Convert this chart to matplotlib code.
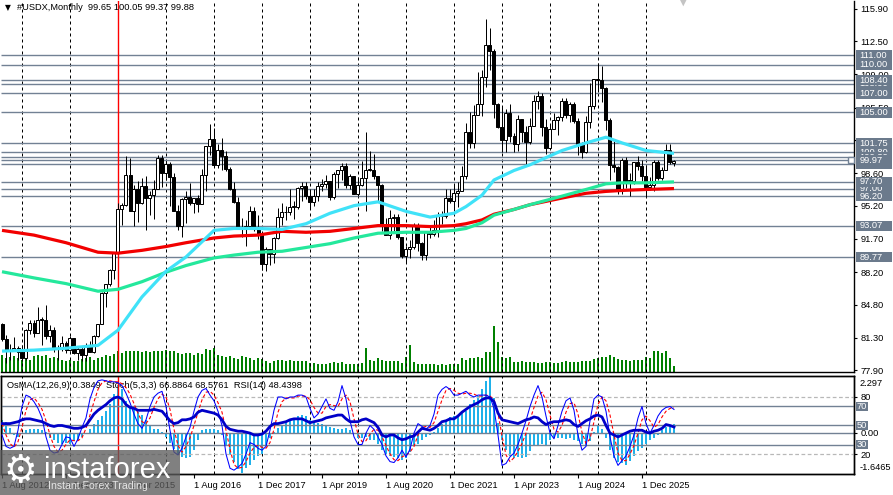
import numpy as np
import matplotlib
matplotlib.use("Agg")
import matplotlib.pyplot as plt
import matplotlib.transforms as mtransforms
from matplotlib.patches import Rectangle

plt.rcParams['font.family'] = ['Liberation Sans', 'DejaVu Sans']

# ---- #USDX monthly bars, first bar = Aug 2012 ----
first_open = 82.7
closes = [81.2, 79.9, 79.9, 80.2, 79.8,
          79.2, 82.1, 82.9, 81.8, 83.2, 83.2, 81.5, 82.1, 80.2, 80.2, 80.7, 80.0,
          81.3, 79.7, 80.1, 79.5, 80.4, 79.8, 81.5, 82.8, 86.0, 87.0, 88.4, 90.3,
          94.8, 95.3, 98.4, 94.6, 96.9, 95.5, 97.3, 96.0, 96.3, 97.0, 100.2, 98.6,
          99.6, 98.2, 94.6, 93.1, 95.9, 96.1, 95.5, 96.0, 95.4, 98.4, 101.5, 102.2,
          99.5, 101.1, 100.4, 99.1, 97.0, 95.6, 92.9, 92.7, 93.1, 94.6, 93.0, 92.1,
          89.1, 90.6, 90.1, 91.8, 94.0, 94.5, 94.5, 95.1, 95.1, 97.1, 97.3, 96.2,
          95.6, 96.2, 97.3, 97.5, 97.8, 96.1, 98.5, 98.9, 99.4, 97.4, 98.3, 96.4,
          97.4, 98.1, 99.0, 99.0, 98.3, 97.4, 93.3, 92.1, 93.9, 94.0, 91.9, 89.9,
          90.6, 90.9, 93.2, 91.3, 90.0, 92.4, 92.2, 92.6, 94.2, 94.1, 96.0, 95.7,
          96.5, 96.7, 98.3, 103.0, 101.8, 104.7, 105.9, 108.7, 112.1, 111.5, 105.9, 103.5,
          102.1, 104.9, 102.5, 101.7, 104.3, 102.9, 101.9, 103.6, 106.2, 106.7, 103.5, 101.3,
          103.3, 104.2, 104.5, 106.2, 104.7, 105.9, 104.1, 101.7, 100.8, 104.0, 105.7, 108.5,
          108.4, 107.6, 104.2, 99.5, 99.3, 96.9, 100.0, 97.8, 97.8, 99.8, 99.4, 98.3,
          97.2, 97.4, 99.8, 98.1, 98.95, 101.06, 99.83, 99.88]
highs = [82.9, 81.6, 80.6, 81.4, 80.4,
         80.5, 82.2, 83.2, 83.2, 84.5, 83.5, 84.8, 82.6, 82.4, 80.5, 81.5, 81.0,
         81.5, 81.3, 80.4, 80.3, 80.7, 81.0, 81.6, 82.8, 86.1, 87.0, 88.5, 90.3,
         95.5, 95.5, 100.4, 100.2, 97.4, 97.8, 98.1, 98.3, 96.7, 97.9, 100.5, 100.5,
         99.9, 99.8, 98.6, 95.3, 96.0, 96.7, 97.6, 96.0, 96.3, 99.1, 101.5, 103.8,
         103.4, 101.7, 102.3, 101.0, 99.3, 97.7, 96.1, 93.9, 93.7, 95.2, 95.1, 94.2,
         92.4, 90.9, 90.6, 91.9, 95.0, 95.5, 95.2, 96.9, 95.7, 97.2, 97.7, 97.7,
         96.9, 96.9, 97.7, 98.0, 98.4, 97.8, 98.7, 99.0, 99.7, 99.7, 98.5, 98.3,
         98.2, 99.9, 103.0, 100.9, 100.6, 98.0, 97.5, 93.9, 94.7, 94.3, 94.3, 91.9,
         91.0, 91.6, 93.4, 93.4, 91.4, 92.4, 93.2, 93.7, 94.5, 94.6, 96.9, 96.9,
         97.4, 97.7, 99.4, 103.9, 105.0, 105.8, 109.3, 109.5, 114.8, 113.9, 111.7, 106.0,
         105.6, 105.4, 105.9, 102.8, 104.7, 104.0, 103.6, 104.4, 106.8, 107.3, 107.1, 104.3,
         103.8, 104.9, 104.6, 106.5, 106.5, 106.1, 106.1, 104.4, 101.9, 104.6, 108.1, 108.5,
         110.2, 109.9, 107.7, 104.4, 102.0, 99.4, 100.2, 100.3, 98.6, 99.8, 100.4, 100.0,
         99.5, 98.2, 100.0, 100.0, 99.3, 101.7, 101.7, 100.05]
lows = [81.0, 78.6, 79.0, 79.9, 79.0,
        78.9, 79.0, 81.7, 81.4, 81.9, 80.5, 81.2, 80.9, 79.8, 79.0, 79.9, 79.7,
        79.9, 79.6, 79.0, 78.9, 78.9, 79.8, 79.7, 81.4, 82.8, 84.5, 86.7, 87.5,
        90.1, 93.2, 95.2, 94.6, 93.1, 93.5, 95.4, 92.6, 94.2, 93.8, 96.9, 97.2,
        97.9, 95.2, 94.6, 92.6, 91.9, 93.4, 95.3, 94.4, 94.5, 95.5, 96.7, 100.5,
        99.4, 99.2, 98.9, 98.8, 96.8, 95.5, 92.9, 91.9, 91.0, 92.7, 92.5, 91.7,
        88.4, 88.3, 89.0, 89.2, 91.7, 93.2, 93.7, 94.2, 93.8, 94.8, 95.7, 95.9,
        95.0, 95.2, 95.7, 96.7, 97.1, 95.8, 95.9, 97.1, 97.9, 97.1, 97.0, 96.4,
        96.2, 97.3, 94.6, 98.8, 98.0, 95.7, 92.5, 92.1, 91.7, 92.5, 91.7, 89.7,
        89.2, 89.7, 90.6, 90.4, 89.5, 89.5, 91.8, 92.0, 91.9, 93.3, 93.9, 95.5,
        94.6, 95.1, 96.9, 98.0, 101.3, 101.3, 104.7, 104.6, 107.7, 109.5, 104.4, 103.4,
        100.8, 100.8, 101.9, 100.8, 101.0, 101.9, 99.6, 101.7, 103.6, 105.4, 102.5, 100.6,
        101.3, 103.4, 102.6, 104.1, 104.4, 104.0, 103.9, 100.5, 100.2, 100.7, 103.4, 105.4,
        107.2, 106.1, 103.2, 97.9, 98.7, 96.4, 96.4, 97.1, 96.2, 97.5, 98.9, 97.8,
        96.15, 96.8, 96.7, 97.9, 97.9, 98.9, 99.6, 99.37]
cur_ohlc = [99.65, 100.05, 99.37, 99.88]

# moving averages at these bars
ma_idx = [0, 8, 16, 24, 29, 35, 41, 46, 53, 58, 64, 70, 76, 82, 88, 94, 101, 107,
          113, 116, 120, 123, 128, 132, 140, 146, 151, 155, 161, 168]
ma_cyan = [79.9, 80.0, 80.2, 80.5, 82.1, 85.6, 88.3, 89.8, 92.6, 92.8, 92.8, 92.7, 93.3,
           94.4, 95.2, 95.6, 94.6, 94.0, 94.4, 95.1, 96.3, 97.9, 98.9, 99.5, 101.0, 101.8,
           102.4, 101.8, 101.0, 100.7]
ma_green = [88.25, 87.6, 87.0, 86.2, 86.4, 87.2, 88.2, 88.9, 89.7, 90.0, 90.3, 90.4, 90.8,
            91.2, 91.8, 92.3, 92.4, 92.4, 92.6, 92.8, 93.4, 94.2, 94.8, 95.3, 96.2, 96.9,
            97.5, 97.6, 97.6, 97.7]
ma_red = [92.6, 92.1, 91.3, 90.3, 90.2, 90.5, 90.9, 91.3, 91.8, 92.0, 92.1, 92.5, 92.4,
          92.5, 92.8, 93.1, 93.1, 93.0, 93.1, 93.3, 93.7, 94.3, 94.8, 95.3, 96.0, 96.5,
          96.7, 96.8, 96.9, 97.0]

volumes = [173, 140, 147, 157, 140, 123, 157, 123, 163, 173,
           157, 173, 140, 147, 140, 123, 107, 123, 107, 113,
           130, 140, 147, 123, 140, 147, 173, 157, 180, 207,
           190, 207, 213, 207, 213, 200, 207, 200, 207, 213,
           207, 223, 207, 207, 190, 180, 190, 190, 173, 190,
           180, 233, 223, 240, 173, 157, 147, 157, 140, 133,
           157, 147, 140, 123, 140, 130, 113, 90, 107, 123,
           123, 113, 123, 107, 107, 107, 107, 90, 90, 83,
           83, 83, 90, 97, 90, 97, 83, 83, 83, 83,
           90, 240, 123, 107, 140, 123, 107, 113, 107, 107,
           90, 147, 273, 97, 83, 83, 83, 83, 83, 73,
           83, 73, 83, 83, 83, 140, 123, 140, 140, 147,
           140, 200, 200, 457, 300, 147, 140, 147, 100, 100,
           107, 100, 100, 97, 93, 90, 97, 100, 93, 90,
           100, 107, 97, 100, 103, 110, 107, 113, 130, 140,
           147, 150, 173, 150, 130, 123, 117, 113, 120, 123,
           117, 150, 143, 207, 213, 190, 210, 140, 60]

osma = [0.55, 0.45, 0.2, -0.1, -0.15, -0.05, 0.1, 0.15, 0.18, 0.15,
        0.12, 0.05, -0.2, -0.3, -0.4, -0.45, -0.4, -0.45, -0.35, -0.3,
        -0.15, -0.05, 0.15, 0.35, 0.55, 0.7, 0.9, 1.2, 1.6, 1.95,
        1.8, 1.3, 1.1, 1.0, 0.85, 0.75, 0.55, 0.3, 0.15, 0.15,
        0.05, -0.15, -0.4, -0.65, -0.85, -1.0, -1.05, -1.0, -0.7, -0.3,
        0.1, 0.15, 0.15, 0.15, 0.1, -0.1, -0.55, -0.9, -1.2, -1.5,
        -1.6465, -1.45, -1.3, -1.1, -0.95, -0.85, -0.55, -0.2, 0.05, 0.2,
        0.3, 0.4, 0.5, 0.6, 0.7, 0.75, 0.7, 0.55, 0.45, 0.4,
        0.35, 0.3, 0.25, 0.2, 0.15, 0.15, 0.2, 0.1, -0.05, -0.2,
        -0.2, -0.15, -0.3, -0.3, -0.45, -0.7, -0.85, -0.95, -1.0, -1.05,
        -1.1, -1.05, -0.8, -0.55, -0.45, -0.3, -0.15, -0.1, 0.05, 0.2,
        0.35, 0.5, 0.65, 0.7, 0.75, 0.8, 0.9, 1.2, 1.35, 1.5,
        1.8, 2.15, 2.297, 1.45, 0.4, -0.3, -0.7, -0.95, -1.05, -1.0,
        -1.05, -1.0, -0.75, -0.55, -0.5, -0.45, -0.5, -0.3, -0.2, -0.2,
        -0.2, -0.25, -0.2, -0.3, -0.35, -0.45, -0.55, -0.35, 0.05, 0.3,
        0.15, -0.2, -0.7, -1.05, -1.2, -1.25, -1.3, -1.15, -0.95, -0.75,
        -0.6, -0.45, -0.3, -0.2, -0.1, 0.1, 0.25, 0.3, 0.3849]

stoch_k = [40, 28, 26, 28, 45, 70, 82, 80, 75, 68, 58, 38, 24, 21, 22, 30, 38, 37, 28, 36,
           48, 58, 78, 90, 97, 98, 97, 96, 96, 95, 92, 84, 74, 62, 52, 47, 56, 70, 80, 84,
           86, 70, 45, 22, 19, 26, 38, 48, 65, 80, 87, 89, 82, 76, 65, 50, 20, 5, 3, 6,
           10, 20, 32, 30, 26, 24, 28, 45, 66, 80, 80, 78, 80,
           80, 82, 82, 80, 68, 58, 62, 70, 78, 68, 66, 75, 92, 78, 55, 38, 30, 30, 42, 50,
           46, 38, 30, 18, 12, 11, 16, 24, 17, 25, 42, 52, 49, 46, 50, 62, 82, 88, 91, 88,
           82, 82, 84, 86, 82, 80, 82, 82, 82, 80, 68, 40, 8, 10, 17, 21, 30, 42, 55, 70,
           82, 92, 80, 60, 42, 36, 50, 65, 76, 79, 66, 40, 24, 28, 55, 78, 82, 80, 65, 38,
           18, 8, 13, 18, 28, 40, 58, 70, 52, 42, 50, 60, 66, 69, 70, 66.8864]
stoch_d = [52, 40, 31, 27, 33, 48, 66, 77, 79, 74, 67, 55, 40, 28, 22, 24, 30, 35, 34, 34,
           37, 47, 61, 75, 88, 95, 97, 97, 96, 96, 94, 90, 83, 73, 63, 54, 52, 58, 69, 78,
           83, 80, 67, 46, 29, 22, 28, 37, 50, 64, 77, 85, 86, 82, 74, 64, 45, 25, 9, 5,
           6, 12, 21, 27, 29, 27, 26, 32, 46, 64, 75, 79, 79,
           79, 81, 81, 81, 77, 69, 63, 63, 70, 72, 71, 70, 78, 82, 75, 57, 41, 33, 34, 41,
           46, 45, 38, 29, 20, 14, 13, 17, 19, 22, 28, 40, 48, 49, 48, 53, 65, 77, 87, 89,
           87, 84, 83, 84, 84, 83, 81, 81, 82, 81, 77, 63, 39, 19, 12, 16, 23, 31, 42, 56,
           69, 81, 85, 77, 61, 46, 43, 50, 64, 73, 74, 62, 43, 31, 36, 54, 72, 80, 76, 61,
           40, 21, 13, 13, 20, 29, 42, 56, 60, 55, 48, 51, 59, 65, 68, 68.5761]
rsi = [52, 52, 52, 53, 54, 56, 57, 57, 56, 55, 54, 52, 50, 49, 50, 50, 49, 48, 47, 47,
       48, 50, 56, 62, 66, 69, 72, 76, 79, 80, 78, 72, 69, 68, 66, 66, 66, 66, 67, 66,
       65, 60, 55, 52, 53, 56, 56, 57, 59, 64, 66, 65, 64, 63, 61, 56, 49, 46, 45, 44,
       44, 43, 42, 40, 40, 41, 44, 49, 52, 52, 53, 54, 56,
       57, 57, 57, 55, 53, 54, 55, 56, 58, 59, 60, 61, 61, 57, 54, 54, 54, 56, 57, 55,
       53, 48, 40, 38, 40, 40, 37, 35, 36, 38, 39, 43, 47, 46, 45, 47, 50, 54, 55, 57,
       57, 60, 64, 67, 70, 72, 74, 77, 79, 79, 75, 63, 56, 55, 54, 53, 52, 54, 56, 57,
       59, 58, 54, 51, 53, 54, 54, 55, 56, 55, 51, 49, 52, 55, 57, 60, 61, 59, 50, 42,
       40, 38, 40, 42, 44, 45, 45, 45, 43, 42, 44, 45, 47, 51, 50, 48.4398]

# horizontal price lines (visible labels) and those whose labels are covered
price_levels = [111.00, 110.00, 108.40, 107.00, 105.00, 101.75, 99.97, 97.70, 96.20, 93.07, 89.77]
hidden_levels = [108.00, 100.80, 100.30, 99.60, 97.00]
y_ticks = [115.90, 112.50, 109.00, 105.50, 102.10, 98.60, 95.20, 91.70, 88.20, 84.80, 81.30, 77.90]
date_idx = [0, 16, 32, 48, 64, 80, 96, 112, 128, 144, 160]
date_labels = ['1 Aug 2012', '1 Dec 2013', '1 Apr 2015', '1 Aug 2016', '1 Dec 2017',
               '1 Apr 2019', '1 Aug 2020', '1 Dec 2021', '1 Apr 2023', '1 Aug 2024',
               '1 Dec 2025']
jan_idx = list(range(5, 162, 12))
vline_idx = 29

n = len(closes)
assert len(highs) == n and len(lows) == n and len(volumes) == n
assert len(osma) == n and len(stoch_k) == n and len(stoch_d) == n and len(rsi) == n

closes = np.array(closes)
opens = np.r_[first_open, closes[:-1]]
opens[-1] = cur_ohlc[0]
highs = np.maximum.reduce([np.array(highs), opens, closes])
lows = np.minimum.reduce([np.array(lows), opens, closes])
idx = np.arange(n)

W, H = 893, 495
LINE = '#728194'
BOX = '#6b7a8c'
FS = 6.7

def fx(x):
    return x / W

def fy(y):
    return 1 - y / H

fig = plt.figure(figsize=(W / 100, H / 100), dpi=100, facecolor='white')
ax = fig.add_axes([fx(1), fy(372), 853 / W, 371 / H])
ax_o = fig.add_axes([fx(1), fy(474), 853 / W, 98 / H])

# volume sits under the price panel
ax_v = ax.twinx()
ax_v.set_zorder(ax.get_zorder() - 1)
ax.patch.set_visible(False)
ax_v.bar(idx, volumes, width=0.3, color='#008000', lw=0)
ax_v.set_ylim(0, 3710)
ax_v.axis('off')

xlim = (-0.25, 213)
ax.set_xlim(*xlim)
ax.set_ylim(77.70, 116.73)

for i in jan_idx:
    ax.axvline(i, color='black', lw=0.72, ls=(0, (3, 3)), zorder=1)
    ax_o.axvline(i, color='black', lw=0.72, ls=(0, (3, 3)), zorder=0.5)
ax.axvline(vline_idx, color='red', lw=1.0, zorder=2.8)
ax_o.axvline(vline_idx, color='red', lw=1.0, zorder=2.8)

ax.hlines(price_levels + hidden_levels, xlim[0], xlim[1], color=LINE, lw=1.0, zorder=1.5)

# candles
up = closes >= opens
body_lo = np.minimum(opens, closes)
body_h = np.maximum(np.abs(closes - opens), 0.06)
ax.vlines(idx, lows, highs, color='black', lw=0.72, zorder=3)
ax.bar(idx[up], body_h[up], bottom=body_lo[up], width=0.75, color='white',
       edgecolor='black', lw=0.72, zorder=3.2)
ax.bar(idx[~up], body_h[~up], bottom=body_lo[~up], width=0.75, color='black',
       edgecolor='black', lw=0.72, zorder=3.2)

ax.plot(ma_idx, ma_red, color='#f20000', lw=2.3, zorder=4, solid_capstyle='butt')
ax.plot(ma_idx, ma_green, color='#24e89c', lw=2.3, zorder=4.1, solid_capstyle='butt')
ax.plot(ma_idx, ma_cyan, color='#40e2f8', lw=2.3, zorder=4.2, solid_capstyle='butt')

ax.plot([212.3], [99.97], marker='s', ms=5, mfc='white', mec=LINE, mew=1, clip_on=False, zorder=6)

ax.yaxis.tick_right()
ax.set_yticks(y_ticks)
ax.set_yticklabels([f'{v:.2f}' for v in y_ticks])
ax.tick_params(axis='y', direction='out', length=2.5, width=0.8, pad=2, labelsize=FS)
ax.set_xticks([])
for s in ['top', 'left']:
    ax.spines[s].set_visible(False)
for s in ['right', 'bottom']:
    ax.spines[s].set_linewidth(1.0)

trans = mtransforms.blended_transform_factory(ax.transAxes, ax.transData)
z = 5
for v in hidden_levels + price_levels:
    ax.add_patch(Rectangle((1.0023, v - 0.55), 0.0422, 1.1, transform=trans, fc=BOX,
                           ec='none', clip_on=False, zorder=z))
    ax.text(1.0062, v, f'{v:.2f}', transform=trans, color='white', fontsize=FS,
            va='center', ha='left', clip_on=False, zorder=z + 0.5)
    z += 1

# indicator window: OsMA histogram below, Stoch and RSI on top
ax_s = ax_o.twinx()
ax_o.set_xlim(*xlim)
ax_o.set_ylim(-1.6876, 2.338)
ax_s.set_ylim(-1.05, 102.1)

ax_o.bar(idx, osma, width=0.7, color='#1fb1ea', lw=0, zorder=1)
ax_o.axhline(0, color=LINE, lw=1.0, zorder=1.2)

ax_s.axhline(80, color='#b8b8b8', lw=0.9, ls=(0, (3, 2)))
ax_s.axhline(20, color='#b8b8b8', lw=0.9, ls=(0, (3, 2)))
for lv in [70, 50, 30]:
    ax_s.axhline(lv, color=LINE, lw=1.0)
ax_s.plot(idx, stoch_d, color='#ff0000', lw=0.8, ls=(0, (3, 2)), zorder=3)
ax_s.plot(idx, stoch_k, color='#0000ff', lw=0.75, zorder=3.1)
ax_s.plot(idx, rsi, color='#0000c8', lw=2.0, zorder=3.2)

ax_o.text(6 / 853, 1 - 10 / 98, 'OsMA(12,26,9) 0.3849  Stoch(5,3,3) 66.8864 68.5761  RSI(14) 48.4398',
          transform=ax_o.transAxes, fontsize=FS, va='center', ha='left', zorder=2)

ax_o.yaxis.tick_right()
ax_o.set_yticks([0])
ax_o.set_yticklabels(['0.00'])
ax_s.set_yticks([80, 20])
ax_s.set_yticklabels(['80', '20'])
for a in (ax_o, ax_s):
    a.tick_params(axis='y', direction='out', length=2.5, width=0.8, pad=2, labelsize=FS)
ax_o.text(1.0062, 1 - 7 / 98, '2.297', transform=ax_o.transAxes, fontsize=FS,
          va='center', ha='left', clip_on=False)
ax_o.text(1.0062, 1 - 92 / 98, '-1.6465', transform=ax_o.transAxes, fontsize=FS,
          va='center', ha='left', clip_on=False)

trans_s = mtransforms.blended_transform_factory(ax_s.transAxes, ax_s.transData)
for lv in [70, 50, 30]:
    ax_s.add_patch(Rectangle((1.0023, lv - 4.8), 0.0141, 9.6, transform=trans_s, fc=BOX,
                             ec='none', clip_on=False, zorder=5))
    ax_s.text(1.0035, lv, str(lv), transform=trans_s, color='white', fontsize=FS,
              va='center', ha='left', clip_on=False, zorder=6)

ax_o.set_xticks(date_idx)
ax_o.set_xticklabels(date_labels, ha='left')
ax_o.tick_params(axis='x', direction='out', length=3, width=0.8, pad=2, labelsize=FS)
for a in (ax_o, ax_s):
    for s in a.spines.values():
        s.set_linewidth(1.0)

# header
fig.text(fx(5), fy(8), '\u25bc', family='DejaVu Sans', fontsize=5.5, va='center', ha='left')
fig.text(fx(17), fy(8), '#USDX,Monthly  %.2f %.2f %.2f %.2f' % tuple(cur_ohlc),
         fontsize=FS, va='center', ha='left')
fig.text(fx(683), fy(2), '\u25bc', family='DejaVu Sans', fontsize=8, color='#c4c4c4',
         va='center', ha='center')

# watermark
fig.add_artist(Rectangle((0, 0), fx(180), 45 / H, transform=fig.transFigure,
                         fc='#5c5c5c', alpha=0.78, ec='none', zorder=20))
fig.text(fx(3), fy(472), '\u2699', family='DejaVu Sans', fontsize=27, color='white',
         va='center', ha='left', zorder=21)
fig.text(fx(44), fy(478), 'instaforex', fontsize=21, color='white', va='baseline',
         ha='left', zorder=21)
fig.text(fx(48), fy(489), 'Instant Forex Trading', fontsize=7.6, color='#e4e4e4',
         va='baseline', ha='left', zorder=21)

fig.savefig('out.png', dpi=100, facecolor='white')
